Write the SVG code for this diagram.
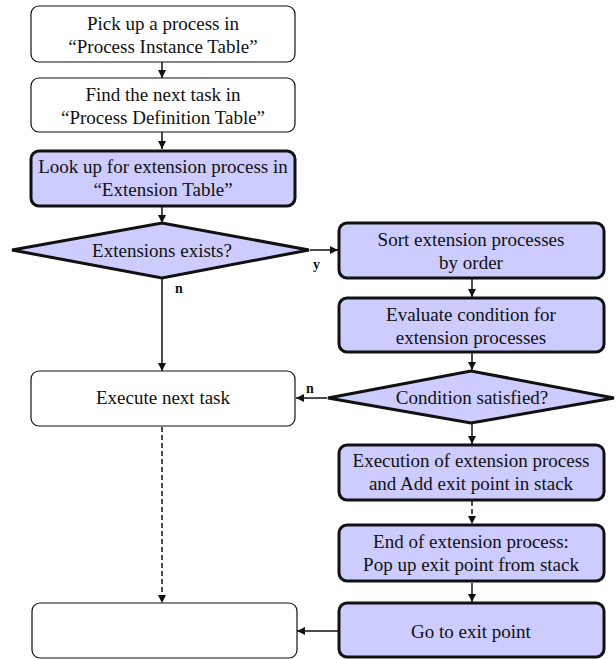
<svg xmlns="http://www.w3.org/2000/svg" width="616" height="659" viewBox="0 0 616 659">
<style>
.t{font-family:"Liberation Serif","Times New Roman",serif;font-size:19px;fill:#111;text-anchor:middle}
.lb{font-family:"Liberation Serif","Times New Roman",serif;font-size:14px;font-weight:bold;fill:#111}
.thin{fill:#fff;stroke:#111;stroke-width:1.2}
.thick{fill:#ccccff;stroke:#111;stroke-width:3}
.c{stroke:#111;stroke-width:1.5;fill:none}
.d{stroke-dasharray:5 3}
</style>
<defs>
<marker id="ah" markerWidth="8" markerHeight="8" refX="8" refY="4" orient="auto" markerUnits="userSpaceOnUse">
<path d="M0,0 L8,4 L0,8 z" fill="#111"/>
</marker>
</defs>
<rect width="616" height="659" fill="#fff"/>
<g id="connectors">
<line class="c" x1="162" y1="62" x2="162" y2="78" marker-end="url(#ah)"/>
<line class="c" x1="162" y1="132" x2="162" y2="149" marker-end="url(#ah)"/>
<line class="c" x1="162" y1="207" x2="162" y2="223" marker-end="url(#ah)"/>
<line class="c" x1="310" y1="250" x2="338" y2="250" marker-end="url(#ah)"/>
<line class="c" x1="162" y1="278" x2="162" y2="371" marker-end="url(#ah)"/>
<line class="c" x1="472" y1="279" x2="472" y2="297" marker-end="url(#ah)"/>
<line class="c" x1="472" y1="353" x2="472" y2="370" marker-end="url(#ah)"/>
<line class="c" x1="327" y1="398" x2="296" y2="398" marker-end="url(#ah)"/>
<line class="c" x1="472" y1="423" x2="472" y2="444" marker-end="url(#ah)"/>
<line class="c d" x1="162" y1="427" x2="162" y2="603" marker-end="url(#ah)"/>
<line class="c d" x1="472" y1="501" x2="472" y2="524" marker-end="url(#ah)"/>
<line class="c" x1="472" y1="583" x2="472" y2="602" marker-end="url(#ah)"/>
<line class="c" x1="338" y1="631" x2="297" y2="631" marker-end="url(#ah)"/>
<text class="lb" x="313" y="269">y</text>
<text class="lb" x="175" y="293">n</text>
<text class="lb" x="306" y="393">n</text>
<text class="lb" x="485" y="472">y</text>
</g>
<g id="n1">
<rect class="thin" x="31" y="6" width="264" height="56" rx="8"/>
<text class="t" x="163" y="30">Pick up a process in</text>
<text class="t" x="163" y="53">“Process Instance Table”</text>
</g>
<g id="n2">
<rect class="thin" x="31" y="78" width="264" height="54" rx="8"/>
<text class="t" x="163" y="101">Find the next task in</text>
<text class="t" x="163" y="124">“Process Definition Table”</text>
</g>
<g id="n3">
<rect class="thick" x="31" y="151" width="264" height="55" rx="8"/>
<text class="t" x="163" y="173">Look up for extension process in</text>
<text class="t" x="163" y="196">“Extension Table”</text>
</g>
<g id="n4">
<polygon class="thick" points="12,250 162,223 309,250 162,278"/>
<text class="t" x="162" y="257">Extensions exists?</text>
</g>
<g id="n5">
<rect class="thick" x="339" y="223" width="265" height="55" rx="8"/>
<text class="t" x="471" y="246">Sort extension processes</text>
<text class="t" x="471" y="269">by order</text>
</g>
<g id="n6">
<rect class="thick" x="339" y="298" width="265" height="54" rx="8"/>
<text class="t" x="471" y="321">Evaluate condition for</text>
<text class="t" x="471" y="344">extension processes</text>
</g>
<g id="n7">
<polygon class="thick" points="328,398 471,371 614,398 471,423"/>
<text class="t" x="472" y="404">Condition satisfied?</text>
</g>
<g id="n8">
<rect class="thin" x="31" y="371" width="264" height="55" rx="8"/>
<text class="t" x="163" y="404">Execute next task</text>
</g>
<g id="n9">
<rect class="thick" x="339" y="445" width="265" height="55" rx="8"/>
<text class="t" x="471" y="467">Execution of extension process</text>
<text class="t" x="471" y="490">and Add exit point in stack</text>
</g>
<g id="n10">
<rect class="thick" x="339" y="525" width="265" height="56" rx="8"/>
<text class="t" x="471" y="548">End of extension process:</text>
<text class="t" x="471" y="571">Pop up exit point from stack</text>
</g>
<g id="n11">
<rect class="thick" x="339" y="603" width="265" height="54" rx="8"/>
<text class="t" x="471" y="638">Go to exit point</text>
</g>
<g id="n12">
<rect class="thin" x="32" y="603" width="265" height="55" rx="8"/>
</g>
</svg>
